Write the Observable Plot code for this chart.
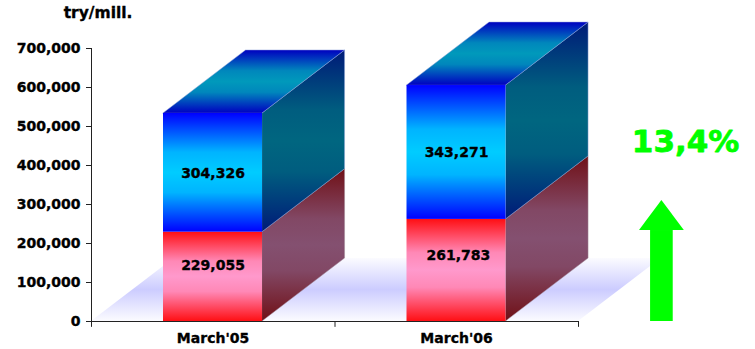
<!DOCTYPE html>
<html>
<head>
<meta charset="utf-8">
<script src="https://cdn.jsdelivr.net/npm/d3@7"></script>
<script src="https://cdn.jsdelivr.net/npm/@observablehq/plot@0.6"></script>
<style>
  html, body { margin: 0; padding: 0; background: #fff; }
  svg { display: block; }
</style>
</head>
<body>
<div id="chart"></div>
<script>
// Two-period balance, in millions of TRY
const categories = ["March'05", "March'06"];
const lowerValues = [229055, 261783];
const upperValues = [304326, 343271];
const yTicks = [0, 100000, 200000, 300000, 400000, 500000, 600000, 700000];

// Printed value positions along the axes
const lowerLabelX = [0.499, 1.507];
const lowerLabelY = [142300, 168000];
const upperLabelY = [380000, 433000];

// Bar slots on the x axis: each category owns one unit
const slotCentres = [0.499, 1.499];
const slotEdges = [0, 1, 2];
const barWidth = 0.4066;

// Oblique extrusion of the bars and the floor, in axis units
const depthX = 0.339;
const depthY = 161500;
const floorSpan = [0, 2];
const slotTickDrop = -15000;

// Growth annotation
const growthLabel = "13,4%";
const arrowBodyX = [2.296, 2.389];
const arrowHeadX = [2.2505, 2.3425, 2.4345];
const arrowNeckY = 233300;
const arrowTipY = 310200;

// Edge and middle colour of each face; bar faces hold the middle over a broad band
const gradientStops = {
  floor: ["#fbfbff", "#ccccff"],
  redFront: ["#ff0f14", "#ff99cc"],
  blueFront: ["#0000ff", "#00ccff"],
  redSide: ["#701016", "#845070"],
  blueSide: ["#001a78", "#006680"],
  blueTop: ["#0000c0", "#0099bb"]
};
const stopOffsets = [0, 0.33, 0.5, 0.67, 1];
const stopMix = [0, 0.88, 1, 0.88, 0];
const floorMix = [0, 0.66, 1, 0.66, 0];

function gradients() {
  const defs = d3.create("svg:defs");
  for (const [id, [rim, middle]] of Object.entries(gradientStops)) {
    const g = defs.append("linearGradient").attr("id", id)
      .attr("x1", 0).attr("y1", 0).attr("x2", 0).attr("y2", 1);
    const mix = d3.interpolateRgb(rim, middle);
    const weights = id === "floor" ? floorMix : stopMix;
    stopOffsets.forEach((o, i) => g.append("stop").attr("offset", o).attr("stop-color", mix(weights[i])));
  }
  return defs.node();
}

const bars = categories.map((name, i) => {
  const x1 = slotCentres[i] - barWidth / 2;
  return {
    name, x1, x2: x1 + barWidth, centre: slotCentres[i],
    lower: lowerValues[i], total: lowerValues[i] + upperValues[i]
  };
});

// Right-hand faces: a two-point area leaning back by the depth
const sideFace = (from, to) => bars.flatMap((b) => [
  { key: b.name, x: b.x2, y1: from(b), y2: to(b) },
  { key: b.name, x: b.x2 + depthX, y1: from(b) + depthY, y2: to(b) + depthY }
]);
const topFace = bars.flatMap((b) => [
  { key: b.name, y: b.total, x1: b.x1, x2: b.x2 },
  { key: b.name, y: b.total + depthY, x1: b.x1 + depthX, x2: b.x2 + depthX }
]);
const floorFace = [
  { y: 0, x1: floorSpan[0], x2: floorSpan[1] },
  { y: depthY, x1: floorSpan[0] + depthX, x2: floorSpan[1] + depthX }
];
const valueLabels = bars.flatMap((b, i) => [
  { x: lowerLabelX[i], y: lowerLabelY[i], text: d3.format(",")(lowerValues[i]) },
  { x: b.centre, y: upperLabelY[i], text: d3.format(",")(upperValues[i]) }
]);
const arrowShape = [
  { x: arrowHeadX[0], y1: arrowNeckY, y2: arrowNeckY },
  { x: arrowHeadX[1], y1: arrowNeckY, y2: arrowTipY },
  { x: arrowHeadX[2], y1: arrowNeckY, y2: arrowNeckY }
];

const edge = { stroke: "#8fa3d6", strokeWidth: 0.5 };
const heavyText = { fill: "#000", stroke: "#000", strokeWidth: 0.35 };
const heavyAxisText = { textStroke: "#000", textStrokeWidth: 0.35 };

const chart = Plot.plot({
  width: 755,
  height: 349,
  marginLeft: 91,
  marginRight: 177,
  marginTop: 48,
  marginBottom: 28,
  style: {
    background: "#fff",
    color: "#000",
    fontFamily: "'DejaVu Sans', sans-serif",
    fontSize: "14px",
    fontWeight: "bold",
    overflow: "visible"
  },
  x: { type: "linear", domain: [0, 2] },
  y: { type: "linear", domain: [0, 700000] },
  marks: [
    gradients,
    Plot.areaX(floorFace, { y: "y", x1: "x1", x2: "x2", fill: "url(#floor)" }),
    Plot.areaY(sideFace((b) => 0, (b) => b.lower), {
      x: "x", y1: "y1", y2: "y2", z: "key", fill: "url(#redSide)", stroke: "#a08a98", strokeWidth: 0.5
    }),
    Plot.areaY(sideFace((b) => b.lower, (b) => b.total), {
      x: "x", y1: "y1", y2: "y2", z: "key", fill: "url(#blueSide)", ...edge
    }),
    Plot.areaX(topFace, { y: "y", x1: "x1", x2: "x2", z: "key", fill: "url(#blueTop)", ...edge }),
    Plot.rectY(bars, { x1: "x1", x2: "x2", y1: 0, y2: "lower", fill: "url(#redFront)" }),
    Plot.rectY(bars, { x1: "x1", x2: "x2", y1: "lower", y2: "total", fill: "url(#blueFront)" }),
    Plot.text(valueLabels, { x: "x", y: "y", text: "text", fontSize: 14, ...heavyText }),

    Plot.axisY({
      ticks: yTicks, tickSize: 5, tickPadding: 6, tickFormat: d3.format(","), label: null,
      stroke: "#222", strokeWidth: 1, ...heavyAxisText
    }),
    Plot.ruleX([0], { stroke: "#222" }),
    Plot.ruleY([0], { stroke: "#222" }),
    Plot.ruleX(slotEdges, { y1: 0, y2: slotTickDrop, stroke: "#222" }),
    Plot.axisX({
      ticks: slotCentres, tickSize: 0, tickPadding: 12, label: null,
      tickFormat: (d) => categories[slotCentres.indexOf(d)], ...heavyAxisText
    }),
    Plot.text(["try/mill."], { x: 0.027, y: 790000, fontSize: 15.5, ...heavyText }),

    Plot.rectY([0], { x1: arrowBodyX[0], x2: arrowBodyX[1], y1: 0, y2: arrowNeckY, fill: "#00ff00" }),
    Plot.areaY(arrowShape, { x: "x", y1: "y1", y2: "y2", fill: "#00ff00" }),
    Plot.text([growthLabel], { x: 2.44, y: 461000, fontSize: 31, fill: "#00ff00", stroke: "#00ff00", strokeWidth: 0.8 })
  ]
});

document.getElementById("chart").append(chart);
</script>
</body>
</html>
